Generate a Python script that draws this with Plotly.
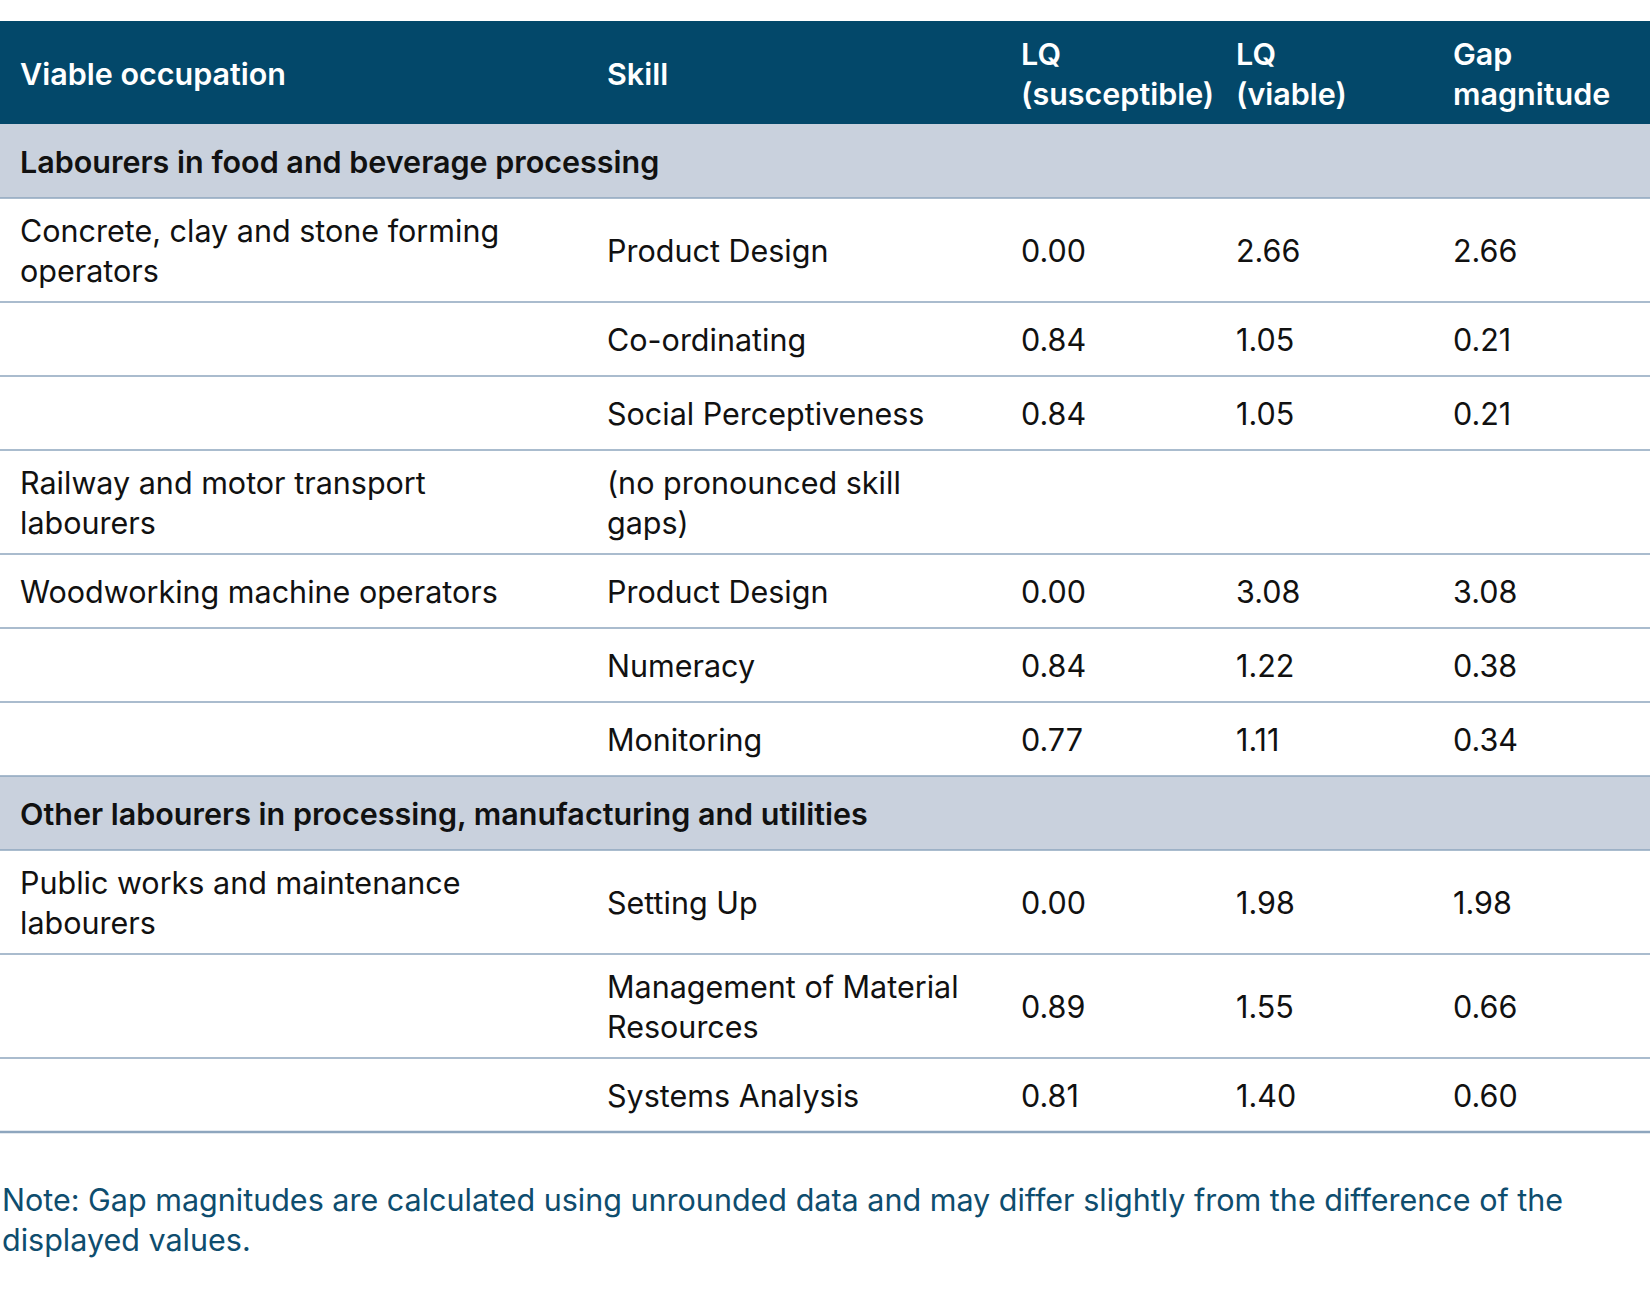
import plotly.graph_objects as go

# ---------------- data ----------------
headers = ["Viable occupation", "Skill", "LQ<br>(susceptible)", "LQ<br>(viable)", "Gap<br>magnitude"]
groups = ["Labourers in food and beverage processing",
          "Other labourers in processing, manufacturing and utilities"]
row_group = [0, 0, 0, 0, 0, 0, 0, 1, 1, 1]
occupation = ["Concrete, clay and stone forming<br>operators", "", "",
              "Railway and motor transport<br>labourers", "Woodworking machine operators", "", "",
              "Public works and maintenance<br>labourers", "", ""]
skill = ["Product Design", "Co-ordinating", "Social Perceptiveness",
         "(no pronounced skill<br>gaps)", "Product Design", "Numeracy", "Monitoring",
         "Setting Up", "Management of Material<br>Resources", "Systems Analysis"]
lq_susceptible = [0.00, 0.84, 0.84, None, 0.00, 0.84, 0.77, 0.00, 0.89, 0.81]
lq_viable = [2.66, 1.05, 1.05, None, 3.08, 1.22, 1.11, 1.98, 1.55, 1.40]
gap_magnitude = [2.66, 0.21, 0.21, None, 3.08, 0.38, 0.34, 1.98, 0.66, 0.60]
note = ("Note: Gap magnitudes are calculated using unrounded data and may differ slightly from the difference of the<br>"
        "displayed values.")

# ---------------- style ----------------
W, H = 1650, 1312
FONT = "Inter"
FS = 30.5
LINE = 40
ROW1 = 74           # single-line row height
ROW_EXTRA = 30      # extra height per additional line
TOP = 21
HEADER_H = 103
col_x = [18, 605, 1019, 1234, 1451]
HEADER_BG = "#03486a"
GROUP_BG = "#c9d1dd"
RULE = "#8ea6be"
TEXT = "#111111"
NOTE_COLOR = "#0e4d6e"

annotations = []
shapes = []


def add_text(x, yc, text, color=TEXT, weight=400, size=FS):
    lines = text.split("<br>")
    n = len(lines)
    for i, ln in enumerate(lines):
        y = yc + (i - (n - 1) / 2) * LINE
        annotations.append(dict(x=x, y=y, xref="x", yref="y", text=ln, showarrow=False,
                                xanchor="left", yanchor="middle",
                                font=dict(family=FONT, size=size, color=color, weight=weight)))


def fmt(v):
    return "" if v is None else f"{v:.2f}"


# header
shapes.append(dict(type="rect", x0=0, x1=W, y0=TOP, y1=TOP + HEADER_H, xref="x", yref="y",
                   fillcolor=HEADER_BG, line=dict(width=0), layer="below"))
for x, h in zip(col_x, headers):
    add_text(x, TOP + HEADER_H / 2 + 1, h, color="white", weight=600)

y = TOP + HEADER_H
prev_group = None
for i in range(len(skill)):
    g = row_group[i]
    if g != prev_group:
        shapes.append(dict(type="rect", x0=0, x1=W, y0=y, y1=y + ROW1, xref="x", yref="y",
                           fillcolor=GROUP_BG, line=dict(width=0), layer="below"))
        add_text(col_x[0], y + ROW1 / 2, groups[g], weight=600)
        y += ROW1
        shapes.append(dict(type="line", x0=0, x1=W, y0=y, y1=y, xref="x", yref="y",
                           line=dict(color=RULE, width=1.6)))
        prev_group = g
    cells = [occupation[i], skill[i], fmt(lq_susceptible[i]), fmt(lq_viable[i]), fmt(gap_magnitude[i])]
    n = max(len(c.split("<br>")) for c in cells)
    rh = ROW1 + ROW_EXTRA * (n - 1)
    for x, c in zip(col_x, cells):
        if c:
            add_text(x, y + rh / 2, c)
    y += rh
    last = i == len(skill) - 1
    shapes.append(dict(type="line", x0=0, x1=W, y0=y, y1=y, xref="x", yref="y",
                       line=dict(color=RULE, width=2.6 if last else 1.6)))

# note
add_text(0, y + 87, note, color=NOTE_COLOR)

fig = go.Figure()
fig.update_layout(
    width=W, height=H,
    margin=dict(l=0, r=0, t=0, b=0),
    paper_bgcolor="white", plot_bgcolor="white",
    xaxis=dict(range=[0, W], visible=False, fixedrange=True),
    yaxis=dict(range=[H, 0], visible=False, fixedrange=True),
    shapes=shapes, annotations=annotations, showlegend=False,
)
fig.write_html("out.html", config={"displayModeBar": False},
               post_script="document.body.style.margin='0';document.body.style.overflow='hidden';")
